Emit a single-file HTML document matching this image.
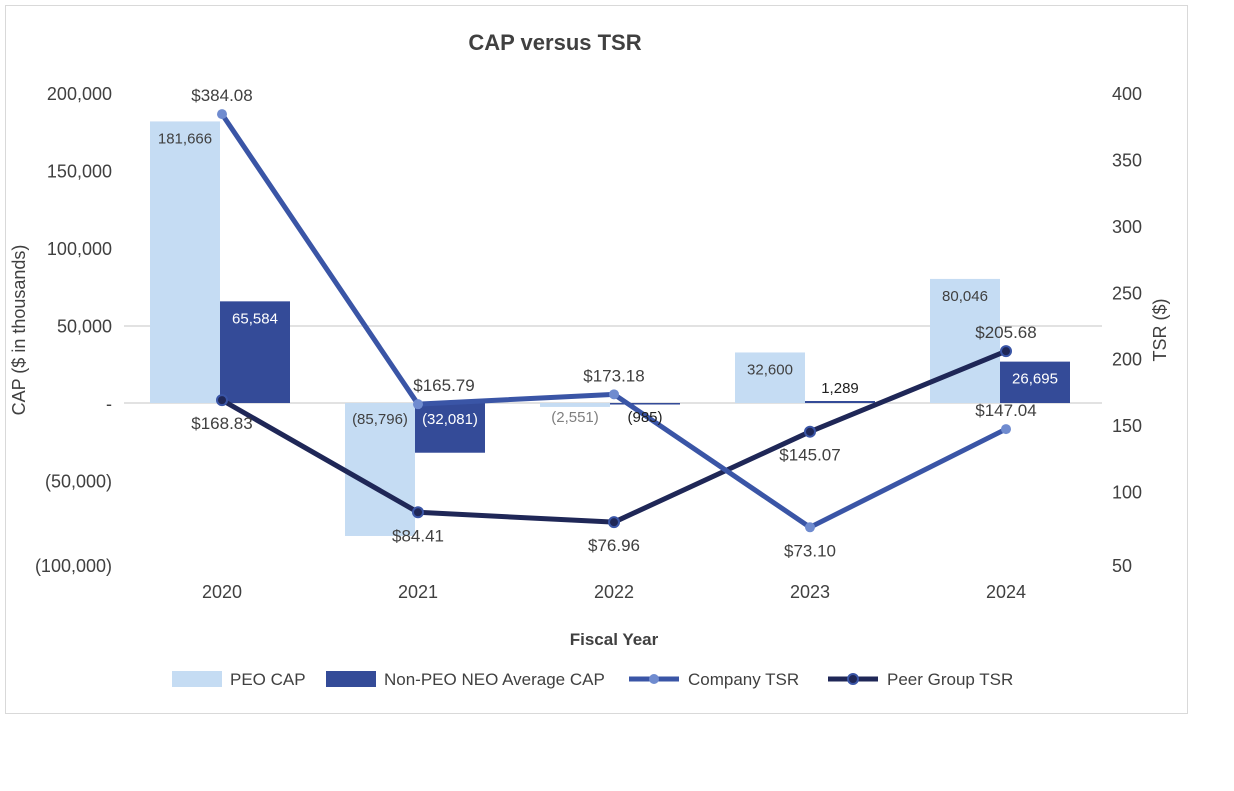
<!DOCTYPE html>
<html><head><meta charset="utf-8"><style>
body{margin:0;background:#fff;font-family:"Liberation Sans",Arial,sans-serif;}
</style></head><body>
<svg width="1234" height="786" xmlns="http://www.w3.org/2000/svg" id="chart">
<rect x="5.5" y="5.5" width="1182" height="708" fill="#fff" stroke="#d9d9d9"/>
<text x="555" y="50" text-anchor="middle" font-size="22" font-weight="bold" fill="#404040">CAP versus TSR</text>
<g id="grid"></g><g id="bars"></g><g id="lines"></g><g id="labels"></g><g id="axes"></g>
<text x="25" y="330" transform="rotate(-90 25 330)" text-anchor="middle" font-size="18" fill="#404040">CAP ($ in thousands)</text>
<text x="1166" y="330" transform="rotate(-90 1166 330)" text-anchor="middle" font-size="18" fill="#404040">TSR ($)</text>
<text x="614" y="645" text-anchor="middle" font-size="17" font-weight="bold" fill="#404040">Fiscal Year</text>
<g font-size="17" fill="#404040">
<g><rect x="172" y="671" width="50" height="16" fill="#c5dcf3"/><text x="230" y="685">PEO CAP</text></g>
<g><rect x="326" y="671" width="50" height="16" fill="#344b98"/><text x="384" y="685">Non-PEO NEO Average CAP</text></g>
<g><line x1="629" y1="679" x2="679" y2="679" stroke="#3a55a6" stroke-width="5"/><circle cx="654" cy="679" r="5" fill="#6f8bcf"/><text x="688" y="685">Company TSR</text></g>
<g><line x1="828" y1="679" x2="878" y2="679" stroke="#1f2757" stroke-width="5"/><circle cx="853" cy="679" r="5" fill="#1f2757" stroke="#3a55a6" stroke-width="2"/><text x="887" y="685">Peer Group TSR</text></g>
</g>
</svg>
<script>
const years=["2020","2021","2022","2023","2024"];
const peoCap=[181666,-85796,-2551,32600,80046];
const neoCap=[65584,-32081,-985,1289,26695];
const companyTsr=[384.08,165.79,173.18,73.10,147.04];
const peerTsr=[168.83,84.41,76.96,145.07,205.68];
const leftTicks=[200000,150000,100000,50000,0,-50000,-100000];
const rightTicks=[400,350,300,250,200,150,100,50];
const companyLabelAbove=[true,true,true,false,true];
const peerLabelAbove=[false,false,false,false,true];

const NS="http://www.w3.org/2000/svg";
const yL=v=>403-v*(310/200000);
const yR=v=>93+(400-v)*(465/350);
const xC=i=>222+i*196;
const xB=i=>150+i*195;
function mk(t,a,p){const e=document.createElementNS(NS,t);for(const k in a)e.setAttribute(k,a[k]);document.getElementById(p).appendChild(e);return e;}
const fmt=v=>{const s=Math.abs(v).toLocaleString('en-US');return v<0?'('+s+')':s;};

[326,403].forEach(y=>{const g=mk('line',{x1:124,x2:1102,y1:y,y2:y,stroke:'#d9d9d9','stroke-width':1.5},'grid');

});

leftTicks.forEach(v=>{const t=mk('text',{x:112,y:(v===-100000?565:yL(v))+7,'text-anchor':'end','font-size':18,fill:'#404040'},'axes');t.textContent=v===0?'-':fmt(v);

});
rightTicks.forEach(v=>{const t=mk('text',{x:1112,y:(v===50?565:yR(v))+7,'font-size':18,fill:'#404040'},'axes');t.textContent=v;

});
years.forEach((y,i)=>{const t=mk('text',{x:xC(i),y:598,'text-anchor':'middle','font-size':18,fill:'#404040'},'axes');t.textContent=y;

});

function bar(v,i,off,fill,name,lblInside,lblOut){
  const x=xB(i)+off, y0=yL(0), y1=yL(v);
  const r=mk('rect',{x:x,y:Math.min(y0,y1),width:70,height:Math.max(Math.abs(y1-y0),1.5),fill:fill},'bars');
  
  
  const h=Math.abs(y1-y0);let ly,col;
  if(h>30){ly=v>0?y1+22:y0+21;col=lblInside;}else{ly=v>0?y1-8:y0+19;col=lblOut;}
  const t=mk('text',{x:x+35,y:ly,'text-anchor':'middle','font-size':15,fill:col},'labels');t.textContent=fmt(v);
  
  
}
peoCap.forEach((v,i)=>bar(v,i,0,'#c5dcf3','peo-cap-bar-'+years[i],'#404040','#7f7f7f'));
neoCap.forEach((v,i)=>bar(v,i,70,'#344b98','neo-cap-bar-'+years[i],'#fff','#202020'));

function series(vals,stroke,pfill,pstroke,name,above){
  const pts=vals.map((v,i)=>xC(i)+','+yR(v)).join(' ');
  const l=mk('polyline',{points:pts,fill:'none',stroke:stroke,'stroke-width':5,'stroke-linejoin':'round'},'lines');
  
  
  vals.forEach((v,i)=>{
    const c=mk('circle',{cx:xC(i),cy:yR(v),r:5,fill:pfill,stroke:pstroke,'stroke-width':2},'lines');
    
    
    const t=mk('text',{x:xC(i)+(i===1&&above[i]?26:0),y:above[i]?yR(v)-13:yR(v)+29,'text-anchor':'middle','font-size':17,fill:'#404040'},'labels');
    t.textContent='$'+v.toFixed(2);
    
    
  });
}
series(peerTsr,'#1f2757','#1f2757','#3a55a6','peer-tsr',peerLabelAbove);
series(companyTsr,'#3a55a6','#6f8bcf','none','company-tsr',companyLabelAbove);
</script>
</body></html>
